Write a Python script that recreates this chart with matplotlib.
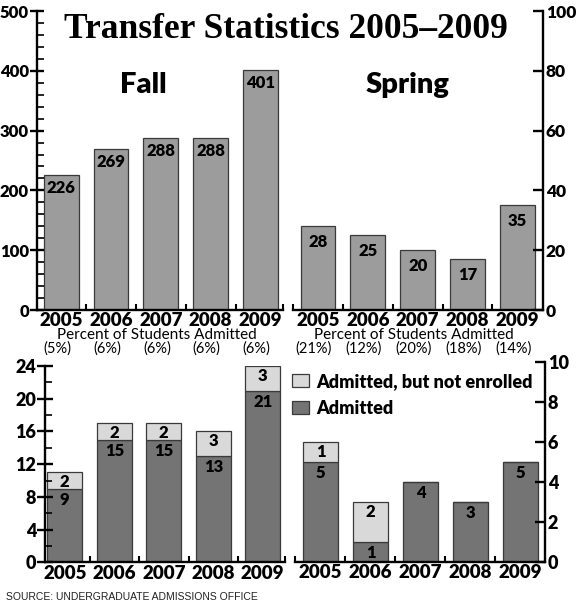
import matplotlib.pyplot as plt
from matplotlib.ticker import MultipleLocator

plt.rcParams['font.family'] = ['Lato', 'DejaVu Sans']
plt.rcParams['font.weight'] = 'heavy'

# Data
years = ['2005', '2006', '2007', '2008', '2009']
fall_transfers = [226, 269, 288, 288, 401]
spring_transfers = [28, 25, 20, 17, 35]
fall_pct = ['(5%)', '(6%)', '(6%)', '(6%)', '(6%)']
spring_pct = ['(21%)', '(12%)', '(20%)', '(18%)', '(14%)']

fall_admitted = [9, 15, 15, 13, 21]
fall_not_enrolled = [2, 2, 2, 3, 3]
spring_admitted = [5, 1, 4, 3, 5]
spring_not_enrolled = [1, 2, 0, 0, 0]

TOP_GREY = '#9c9c9c'
DARK = '#747474'
LIGHT = '#d9d9d9'
EDGE = '#3a3a3a'
SPINE_W = 1.7

fig = plt.figure(figsize=(5.8, 6.05), dpi=100)

# ---------- top panel: fall (left scale) and spring (right scale) ----------
fall_x = [i for i in range(5)]
spring_x = [5.155 + i for i in range(5)]

ax = fig.add_axes([0.0643, 0.4876, 0.8719, 0.4942])
ax2 = ax.twinx()
ax.bar(fall_x, fall_transfers, width=0.7, color=TOP_GREY, edgecolor=EDGE, linewidth=0.9)
ax2.bar(spring_x, spring_transfers, width=0.7, color=TOP_GREY, edgecolor=EDGE, linewidth=0.9)
ax.set_xlim(-0.48, 9.67)
ax.set_ylim(0, 500)
ax2.set_ylim(0, 100)

for a in (ax, ax2):
    for s in a.spines.values():
        s.set_linewidth(SPINE_W)
    a.spines['top'].set_visible(False)
ax.spines['right'].set_visible(False)
ax2.spines['left'].set_visible(False)
ax.spines['bottom'].set_bounds(-0.48, 4.46)
ax2.spines['bottom'].set_bounds(4.65, 9.67)

ax.set_xticks(fall_x + spring_x, years + years)
ax.set_xticks([0.5, 1.5, 2.5, 3.5, 4.46, 4.65, 5.655, 6.655, 7.655, 8.655], minor=True)
ax.tick_params(axis='x', which='major', length=0, pad=1.5, labelsize=13.5)
ax.tick_params(axis='x', which='minor', direction='in', length=4, width=1.5)
ax2.tick_params(axis='x', which='both', bottom=False, labelbottom=False)

ax.yaxis.set_major_locator(MultipleLocator(100))
ax.yaxis.set_minor_locator(MultipleLocator(20))
ax.tick_params(axis='y', which='major', direction='inout', length=10, width=1.7,
               labelsize=12, pad=1)
ax.tick_params(axis='y', which='minor', direction='in', length=5, width=1.2)
ax2.yaxis.set_major_locator(MultipleLocator(20))
ax2.tick_params(axis='y', which='major', direction='in', length=7, width=1.7,
                labelsize=12.5, pad=2)

for x, v in zip(fall_x, fall_transfers):
    ax.annotate(str(v), (x, v), xytext=(0, -13), textcoords='offset pixels',
                ha='center', va='center', fontsize=12)
for x, v in zip(spring_x, spring_transfers):
    ax2.annotate(str(v), (x, v), xytext=(0, -16), textcoords='offset pixels',
                 ha='center', va='center', fontsize=12)

xt = ax.get_xaxis_transform()
for xs, pcts in ((fall_x, fall_pct), (spring_x, spring_pct)):
    for x, p in zip(xs, pcts):
        ax.annotate(p, (x, 0), xycoords=xt, xytext=(-4, -39), textcoords='offset pixels',
                    ha='center', va='center', fontsize=10.5, fontweight='normal')
    ax.annotate('Percent of Students Admitted', (sum(xs) / 5, 0), xycoords=xt,
                xytext=(-4, -25), textcoords='offset pixels',
                ha='center', va='center', fontsize=11, fontweight='normal')

ax.text(0.209, 0.725, 'Fall', transform=ax.transAxes, ha='center', va='baseline', fontsize=21)
ax.text(0.733, 0.725, 'Spring', transform=ax.transAxes, ha='center', va='baseline', fontsize=21)

fig.text(0.493, 0.9377, 'Transfer Statistics 2005\u20132009', ha='center', va='baseline',
         fontsize=25.5, family='Liberation Serif', fontweight='bold')

# ---------- bottom panels: admitted / not enrolled ----------
pos = list(range(5))
axL = fig.add_axes([0.0776, 0.0703, 0.4138, 0.3248])
axR = fig.add_axes([0.5086, 0.0711, 0.4310, 0.3306])

for a, adm, notenr in ((axL, fall_admitted, fall_not_enrolled),
                       (axR, spring_admitted, spring_not_enrolled)):
    dark = a.bar(pos, adm, width=0.71, color=DARK, edgecolor=EDGE, linewidth=0.9,
                 label='Admitted')
    light = a.bar(pos, notenr, width=0.71, bottom=adm, color=LIGHT, edgecolor=EDGE,
                  linewidth=0.9, label='Admitted, but not enrolled')
    for x, d, n in zip(pos, adm, notenr):
        a.annotate(str(d), (x, d), xytext=(0, -11), textcoords='offset pixels',
                   ha='center', va='center', fontsize=12)
        if n:
            a.annotate(str(n), (x, d + n), xytext=(0, -10), textcoords='offset pixels',
                       ha='center', va='center', fontsize=12)
    for s in a.spines.values():
        s.set_linewidth(SPINE_W)
    a.spines['top'].set_visible(False)
    a.set_xticks(pos, years)
    a.tick_params(axis='x', which='major', length=0, pad=1.5, labelsize=13.5)
    a.tick_params(axis='x', which='minor', direction='in', length=4, width=1.5)
    a.tick_params(axis='y', labelsize=13)

axL.set_xlim(-0.40, 4.45)
axL.set_ylim(0, 24)
axL.spines['right'].set_visible(False)
axL.set_xticks([0.5, 1.5, 2.5, 3.5, 4.44], minor=True)
axL.yaxis.set_major_locator(MultipleLocator(4))
axL.yaxis.set_minor_locator(MultipleLocator(2))
axL.tick_params(axis='y', which='major', direction='inout', length=11, width=1.7, pad=1)
axL.tick_params(axis='y', which='minor', direction='in', length=5, width=1.2)

axR.set_xlim(-0.51, 4.49)
axR.set_ylim(0, 10)
axR.spines['left'].set_visible(False)
axR.set_xticks([-0.50, 0.5, 1.5, 2.5, 3.5], minor=True)
axR.yaxis.tick_right()
axR.yaxis.set_major_locator(MultipleLocator(2))
axR.tick_params(axis='y', which='major', direction='in', length=7, width=1.7, pad=2)

axR.legend(handles=[light, dark], loc='upper left', bbox_to_anchor=(0.503, 0.3835),
           bbox_transform=fig.transFigure, frameon=False, fontsize=13,
           handlelength=0.95, handleheight=0.7, handletextpad=0.4,
           labelspacing=0.55, borderpad=0, borderaxespad=0)

fig.text(6 / 580, 8 / 605, 'SOURCE: UNDERGRADUATE ADMISSIONS OFFICE', ha='left', va='center',
         fontsize=7.5, family='Liberation Sans', fontweight='normal', color='#222222')

fig.savefig('out.png', dpi=100)
